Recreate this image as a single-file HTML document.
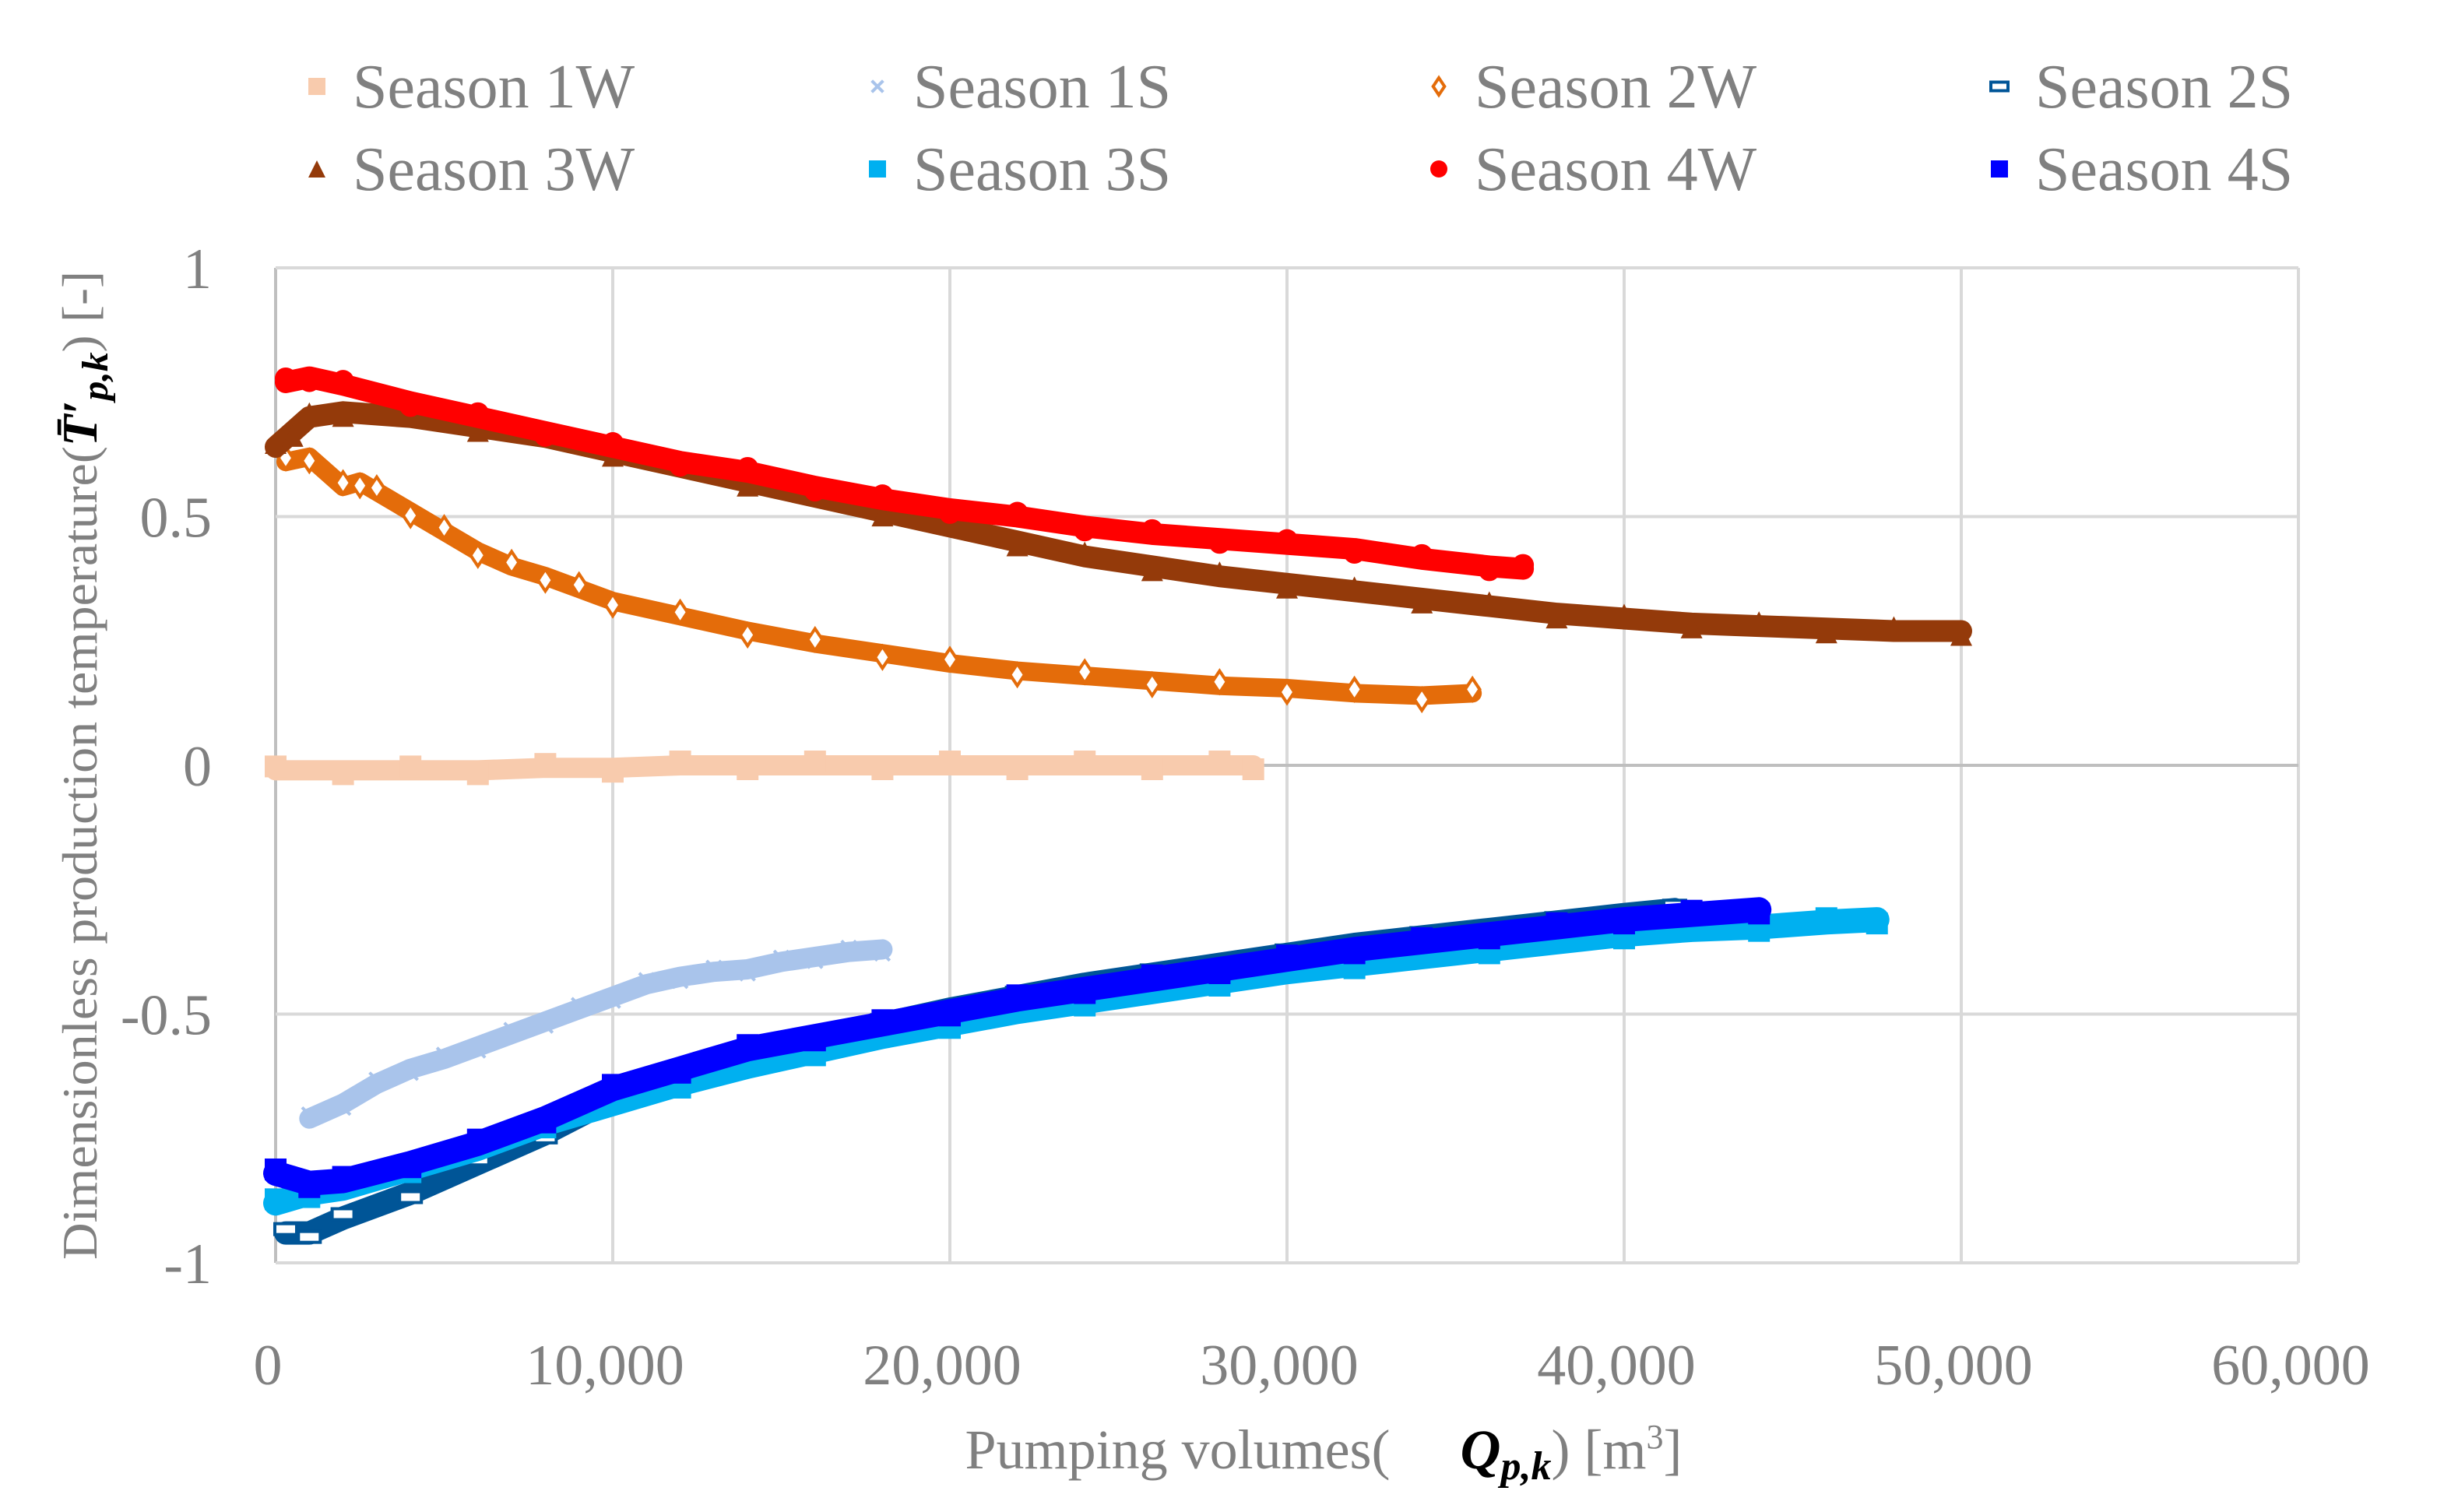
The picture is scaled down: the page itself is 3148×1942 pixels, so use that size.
<!DOCTYPE html>
<html><head><meta charset="utf-8"><style>
html,body{margin:0;padding:0;background:#fff;}
svg{display:block;}
</style></head><body>
<svg id="chart" width="3148" height="1942" xmlns="http://www.w3.org/2000/svg" font-family="'Liberation Serif', serif">
<g id="grid"></g>
<g id="ticks" fill="#808080" font-size="74"></g>
<g id="series"></g>
<g id="legend" font-size="80" fill="#808080"></g>
<g transform="translate(124,983) rotate(-90)">
<text x="0" y="0" text-anchor="middle" font-size="64" fill="#808080" textLength="1270" lengthAdjust="spacingAndGlyphs">Dimensionless production temperature(<tspan fill="#000" font-weight="bold" font-style="italic">T̄′<tspan font-size="48" dy="14">p,k</tspan></tspan><tspan dy="-14">) [-]</tspan></text>
</g>
<g>
<text x="1700" y="1886" text-anchor="middle" font-size="72" fill="#808080">Pumping volumes(<tspan fill="#000" font-weight="bold" font-style="italic" dx="90">Q<tspan font-size="52" dy="14">p,k</tspan></tspan><tspan dy="-14">) [m</tspan><tspan font-size="44" dy="-26">3</tspan><tspan dy="26">]</tspan></text>
</g>
</svg>
<script>
const xTicks=[0,10000,20000,30000,40000,50000,60000];
const xTickLabels=["0","10,000","20,000","30,000","40,000","50,000","60,000"];
const yTicks=[1,0.5,0,-0.5,-1];
const yTickLabels=["1","0.5","0","-0.5","-1"];
const seriesNames=["Season 1W","Season 1S","Season 2W","Season 2S","Season 3W","Season 3S","Season 4W","Season 4S"];
const s1W_x=[0,2000,4000,6000,8000,10000,12000,14000,16000,18000,20000,22000,24000,26000,28000,29000];
const s1W_y=[-0.01,-0.01,-0.01,-0.01,-0.005,-0.005,0,0,0,0,0,0,0,0,0,0];
const s1S_x=[1000,2000,3000,4000,5000,6000,7000,8000,9000,10000,11000,12000,13000,14000,15000,16000,17000,18000];
const s1S_y=[-0.71,-0.68,-0.64,-0.61,-0.59,-0.565,-0.54,-0.515,-0.49,-0.465,-0.44,-0.425,-0.415,-0.41,-0.395,-0.385,-0.375,-0.37];
const s2W_x=[300,1000,2000,2500,3000,4000,5000,6000,7000,8000,9000,10000,12000,14000,16000,18000,20000,22000,24000,26000,28000,30000,32000,34000,35500];
const s2W_y=[0.61,0.62,0.56,0.57,0.55,0.51,0.47,0.43,0.40,0.38,0.355,0.33,0.30,0.27,0.245,0.225,0.205,0.19,0.18,0.17,0.16,0.155,0.145,0.14,0.145];
const s2S_x=[300,1000,2000,4000,6000,8000,10000,12000,14000,16000,18000,20000,22000,24000,26000,28000,30000,32000,34000,36000,38000,40000,41500];
const s2S_y=[-0.94,-0.94,-0.91,-0.86,-0.80,-0.74,-0.67,-0.62,-0.58,-0.55,-0.52,-0.49,-0.465,-0.44,-0.42,-0.40,-0.38,-0.36,-0.345,-0.33,-0.315,-0.30,-0.29];
const s3W_x=[0,500,1000,2000,4000,6000,8000,10000,12000,14000,16000,18000,20000,22000,24000,26000,28000,30000,32000,34000,36000,38000,40000,42000,44000,46000,48000,50000];
const s3W_y=[0.64,0.67,0.70,0.71,0.70,0.68,0.66,0.63,0.60,0.57,0.54,0.51,0.48,0.45,0.42,0.40,0.38,0.365,0.35,0.335,0.32,0.305,0.295,0.285,0.28,0.275,0.27,0.27];
const s3S_x=[0,1000,2000,4000,6000,8000,10000,12000,14000,16000,18000,20000,22000,24000,26000,28000,30000,32000,34000,36000,38000,40000,42000,44000,46000,47500];
const s3S_y=[-0.88,-0.86,-0.85,-0.81,-0.77,-0.72,-0.68,-0.64,-0.605,-0.575,-0.545,-0.52,-0.495,-0.475,-0.455,-0.435,-0.415,-0.40,-0.385,-0.37,-0.355,-0.34,-0.33,-0.325,-0.315,-0.31];
const s4W_x=[300,1000,2000,4000,6000,8000,10000,12000,14000,16000,18000,20000,22000,24000,26000,28000,30000,32000,34000,36000,37000];
const s4W_y=[0.77,0.78,0.765,0.73,0.70,0.67,0.64,0.61,0.59,0.56,0.535,0.515,0.50,0.48,0.465,0.455,0.445,0.435,0.415,0.40,0.395];
const s4S_x=[0,1000,2000,4000,6000,8000,10000,12000,14000,16000,18000,20000,22000,24000,26000,28000,30000,32000,34000,36000,38000,40000,42000,44000];
const s4S_y=[-0.82,-0.84,-0.835,-0.80,-0.76,-0.71,-0.65,-0.61,-0.57,-0.545,-0.52,-0.495,-0.47,-0.45,-0.43,-0.41,-0.39,-0.37,-0.355,-0.34,-0.325,-0.31,-0.30,-0.29];

const NS="http://www.w3.org/2000/svg";
const X0=354,X1=2952,Y0=344,Y1=1622;
const xScale=v=>X0+(v-0)/(60000)*(X1-X0);
const yScale=v=>Y1-(v+1)/2*(Y1-Y0);
function mk(tag,attrs,parent){const e=document.createElementNS(NS,tag);for(const k in attrs)e.setAttribute(k,attrs[k]);parent.appendChild(e);return e;}

const grid=document.getElementById('grid');
xTicks.forEach((t,i)=>{
  const l=mk('line',{x1:xScale(t),x2:xScale(t),y1:Y0,y2:Y1,stroke:i===0?'#BFBFBF':'#D9D9D9','stroke-width':4},grid);
  
  
});
yTicks.forEach(t=>{
  const l=mk('line',{x1:X0,x2:X1,y1:yScale(t),y2:yScale(t),stroke:t===0?'#BFBFBF':'#D9D9D9','stroke-width':4},grid);
  
  
});
const ticks=document.getElementById('ticks');
xTicks.forEach((t,i)=>{
  const e=mk('text',{x:xScale(t)-10,y:1778,'text-anchor':'middle'},ticks);
  e.textContent=xTickLabels[i];
  
  
});
yTicks.forEach((t,i)=>{
  const e=mk('text',{x:272,y:yScale(t)+26,'text-anchor':'end'},ticks);
  e.textContent=yTickLabels[i];
  
  
});

const colors=["#F8CBAD","#A9C4EB","#E46C0A","#005597","#943A0A","#00B0F0","#FF0000","#0000FF"];
const markers=["square","cross","diamond","rect-hollow","triangle","square","circle","square"];
const data=[[s1W_x,s1W_y],[s1S_x,s1S_y],[s2W_x,s2W_y],[s2S_x,s2S_y],[s3W_x,s3W_y],[s3S_x,s3S_y],[s4W_x,s4W_y],[s4S_x,s4S_y]];
const widths=[26,26,24,30,28,32,28,32];
function marker(type,cx,cy,c,s,parent){
  let e;
  if(type==='square') e=mk('rect',{x:cx-s/2,y:cy-s/2,width:s,height:s,fill:c},parent);
  else if(type==='rect-hollow') e=mk('rect',{x:cx-s/2,y:cy-s/4,width:s,height:s/2,fill:'#fff',stroke:c,'stroke-width':4},parent);
  else if(type==='circle') e=mk('circle',{cx:cx,cy:cy,r:s/2,fill:c},parent);
  else if(type==='triangle') e=mk('polygon',{points:`${cx},${cy-s/2} ${cx+s/2},${cy+s/2} ${cx-s/2},${cy+s/2}`,fill:c},parent);
  else if(type==='diamond') e=mk('polygon',{points:`${cx},${cy-s/2} ${cx+s/3},${cy} ${cx},${cy+s/2} ${cx-s/3},${cy}`,fill:'#fff',stroke:c,'stroke-width':4},parent);
  else e=mk('path',{d:`M${cx-s/3},${cy-s/3}L${cx+s/3},${cy+s/3}M${cx+s/3},${cy-s/3}L${cx-s/3},${cy+s/3}`,stroke:c,'stroke-width':4},parent);
  return e;
}
const sg=document.getElementById('series');
data.forEach((d,i)=>{
  const g=mk('g',{},sg);
  
  
  const pts=d[0].map((x,j)=>xScale(x)+','+yScale(d[1][j])).join(' ');
  const pl=mk('polyline',{points:pts,fill:'none',stroke:colors[i],'stroke-width':widths[i],'stroke-linejoin':'round','stroke-linecap':'round'},g);
  
  
  d[0].forEach((x,j)=>{
    const m=marker(markers[i],xScale(x),yScale(d[1][j])+(j%2?5:-5),colors[i],28,g);
    
    
  });
});

const lg=document.getElementById('legend');
const lgX=[407,1127,1848,2568],lgY=[111,217];
seriesNames.forEach((n,i)=>{
  const cx=lgX[i%4],cy=lgY[Math.floor(i/4)];
  const g=mk('g',{},lg);
  
  
  const m=marker(markers[i],cx,cy,colors[i],22,g);
  
  
  const t=mk('text',{x:cx+46,y:cy+27},g);
  t.textContent=n;
  
  
});
</script>
</body></html>
